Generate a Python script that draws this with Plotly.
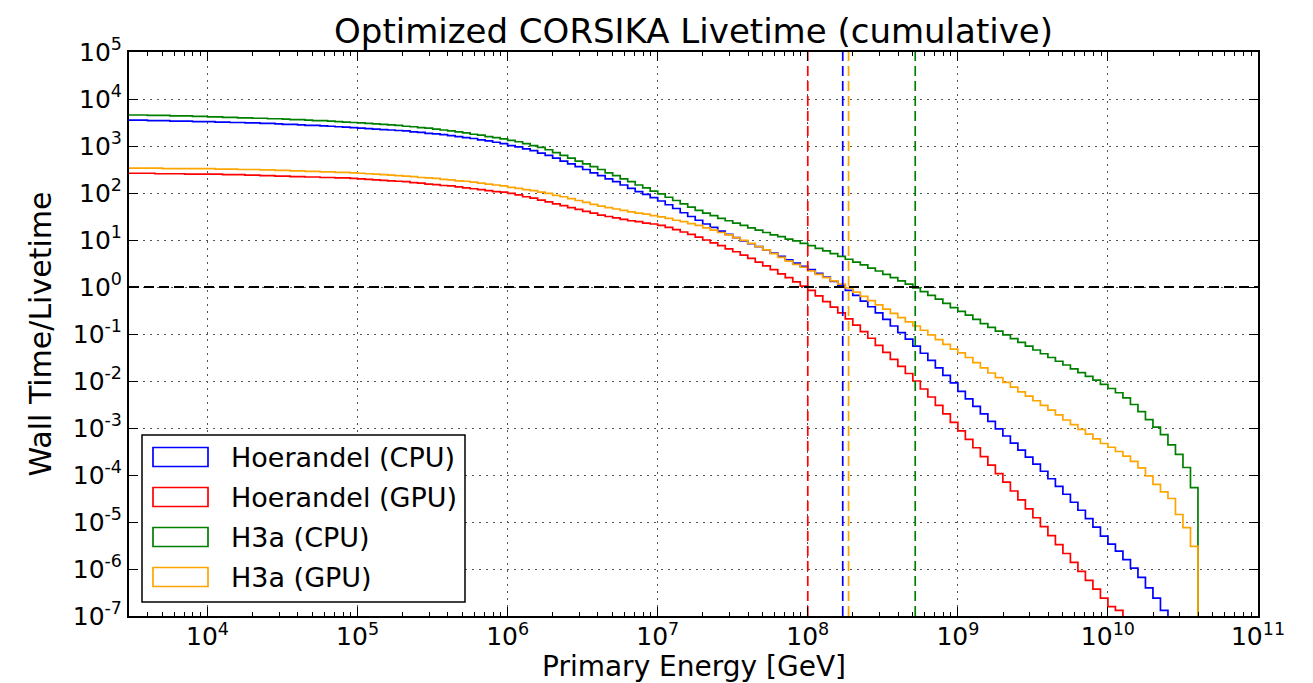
import numpy as np
import plotly.graph_objects as go

title_text = "Optimized CORSIKA Livetime (cumulative)"
x_label = "Primary Energy [GeV]"
y_label = "Wall Time/Livetime"

series_names = ["Hoerandel (CPU)", "Hoerandel (GPU)", "H3a (CPU)", "H3a (GPU)"]
series_colors = ["#0000ff", "#ff0000", "#008000", "#ffa500"]

# histogram binning (log10 GeV): 20 bins per decade
bin_edge_start_log = 3.45
bin_width_log = 0.05

# cumulative wall time / livetime per bin, stored as log10 values
hoerandel_cpu_log10 = [
    3.55, 3.55, 3.55, 3.54, 3.54, 3.54, 3.53, 3.53, 3.53, 3.52, 3.52,
    3.52, 3.51, 3.51, 3.50, 3.50, 3.49, 3.49, 3.48, 3.48, 3.47, 3.46, 3.46, 3.45, 3.44, 3.44, 3.43, 3.42, 3.41, 3.40, 3.39,
    3.38, 3.37, 3.36, 3.35, 3.34, 3.33, 3.32, 3.30, 3.29, 3.27, 3.26, 3.24, 3.22, 3.20, 3.18, 3.16, 3.13, 3.11, 3.08, 3.05,
    3.01, 2.98, 2.94, 2.90, 2.85, 2.80, 2.74, 2.68, 2.62, 2.56, 2.50, 2.43, 2.37, 2.30, 2.24, 2.17, 2.10, 2.03, 1.97, 1.90,
    1.83, 1.75, 1.67, 1.58, 1.50, 1.42, 1.34, 1.27, 1.19, 1.12, 1.05, 0.98, 0.92, 0.86, 0.79, 0.72, 0.65, 0.58, 0.51, 0.44,
    0.37, 0.29, 0.21, 0.12, 0.03, -0.07, -0.18, -0.30, -0.42, -0.55, -0.69, -0.83, -0.97, -1.11, -1.26, -1.41, -1.56, -1.72, -1.88, -2.04,
    -2.22, -2.38, -2.54, -2.70, -2.86, -3.02, -3.17, -3.32, -3.47, -3.62, -3.77, -3.92, -4.08, -4.24, -4.41, -4.58, -4.75, -4.93, -5.11, -5.30,
    -5.47, -5.62, -5.80, -5.98, -6.18, -6.40, -6.62, -6.88, -7.15,
]
hoerandel_gpu_log10 = [
    2.42, 2.42, 2.42, 2.42, 2.41, 2.41, 2.41, 2.41, 2.40, 2.40, 2.40,
    2.40, 2.40, 2.39, 2.39, 2.39, 2.38, 2.38, 2.37, 2.37, 2.36, 2.36, 2.35, 2.35, 2.34, 2.34, 2.33, 2.33, 2.32, 2.32, 2.31,
    2.30, 2.29, 2.28, 2.27, 2.26, 2.25, 2.24, 2.22, 2.21, 2.19, 2.18, 2.16, 2.15, 2.13, 2.11, 2.09, 2.07, 2.05, 2.03, 2.02,
    1.99, 1.96, 1.92, 1.89, 1.85, 1.81, 1.77, 1.73, 1.69, 1.65, 1.61, 1.57, 1.53, 1.50, 1.47, 1.44, 1.41, 1.39, 1.36, 1.34,
    1.31, 1.27, 1.22, 1.17, 1.12, 1.06, 1.00, 0.94, 0.88, 0.81, 0.75, 0.68, 0.61, 0.53, 0.45, 0.37, 0.28, 0.20, 0.11, 0.02,
    -0.07, -0.19, -0.31, -0.43, -0.55, -0.68, -0.81, -0.95, -1.09, -1.24, -1.39, -1.54, -1.69, -1.84, -2.00, -2.17, -2.34, -2.52, -2.70, -2.88,
    -3.06, -3.24, -3.42, -3.61, -3.79, -3.97, -4.15, -4.34, -4.53, -4.72, -4.91, -5.10, -5.29, -5.48, -5.67, -5.86, -6.05, -6.24, -6.43, -6.62,
    -6.80, -6.88, -7.20,
]
h3a_cpu_log10 = [
    3.66, 3.66, 3.66, 3.65, 3.65, 3.65, 3.64, 3.64, 3.64, 3.63, 3.63,
    3.62, 3.62, 3.61, 3.61, 3.60, 3.60, 3.59, 3.59, 3.58, 3.58, 3.57, 3.56, 3.56, 3.55, 3.54, 3.54, 3.53, 3.52, 3.51, 3.50,
    3.49, 3.48, 3.47, 3.46, 3.45, 3.44, 3.42, 3.41, 3.39, 3.38, 3.36, 3.34, 3.32, 3.30, 3.28, 3.25, 3.23, 3.20, 3.18, 3.15,
    3.12, 3.09, 3.05, 3.01, 2.97, 2.92, 2.86, 2.80, 2.74, 2.68, 2.62, 2.56, 2.50, 2.43, 2.37, 2.30, 2.24, 2.17, 2.11, 2.04,
    1.98, 1.91, 1.84, 1.77, 1.70, 1.63, 1.57, 1.52, 1.46, 1.41, 1.36, 1.31, 1.26, 1.21, 1.16, 1.11, 1.07, 1.02, 0.98, 0.93,
    0.88, 0.82, 0.77, 0.71, 0.65, 0.59, 0.53, 0.47, 0.40, 0.34, 0.27, 0.20, 0.13, 0.06, -0.02, -0.10, -0.18, -0.26, -0.35, -0.44,
    -0.52, -0.60, -0.69, -0.78, -0.86, -0.94, -1.02, -1.10, -1.18, -1.26, -1.34, -1.42, -1.50, -1.58, -1.66, -1.74, -1.82, -1.90, -1.98, -2.07,
    -2.16, -2.25, -2.36, -2.50, -2.65, -2.82, -2.98, -3.14, -3.36, -3.56, -3.84, -4.27,
]
h3a_gpu_log10 = [
    2.53, 2.53, 2.53, 2.53, 2.53, 2.52, 2.52, 2.52, 2.52, 2.52, 2.52,
    2.52, 2.51, 2.51, 2.51, 2.50, 2.50, 2.50, 2.49, 2.49, 2.48, 2.48, 2.47, 2.47, 2.46, 2.46, 2.45, 2.45, 2.44, 2.44, 2.43,
    2.42, 2.41, 2.40, 2.39, 2.38, 2.37, 2.36, 2.35, 2.33, 2.32, 2.31, 2.29, 2.28, 2.26, 2.25, 2.23, 2.21, 2.19, 2.17, 2.15,
    2.12, 2.10, 2.07, 2.05, 2.02, 1.99, 1.95, 1.92, 1.88, 1.84, 1.80, 1.76, 1.72, 1.69, 1.66, 1.63, 1.60, 1.57, 1.55, 1.52,
    1.49, 1.46, 1.42, 1.39, 1.35, 1.31, 1.26, 1.21, 1.16, 1.11, 1.05, 0.99, 0.93, 0.86, 0.79, 0.71, 0.63, 0.55, 0.48, 0.42,
    0.34, 0.27, 0.20, 0.13, 0.06, -0.02, -0.11, -0.20, -0.29, -0.38, -0.47, -0.56, -0.65, -0.74, -0.83, -0.92, -1.02, -1.12, -1.22, -1.32,
    -1.40, -1.50, -1.61, -1.72, -1.83, -1.93, -2.03, -2.13, -2.23, -2.32, -2.42, -2.52, -2.62, -2.72, -2.83, -2.93, -3.03, -3.13, -3.23, -3.33,
    -3.41, -3.50, -3.60, -3.71, -3.85, -4.02, -4.20, -4.36, -4.50, -4.84, -5.12, -5.52,
]
series_log10 = [hoerandel_cpu_log10, hoerandel_gpu_log10, h3a_cpu_log10, h3a_gpu_log10]

# energy at which each curve crosses Wall Time/Livetime = 1 (GeV)
crossing_energy = [1.71e8, 1.0e8, 5.2e8, 1.87e8]
reference_level = 1.0

x_min, x_max = 3.0e3, 1.0e11
y_min, y_max = 1.0e-7, 1.0e5
x_tick_exp = list(range(4, 12))
y_tick_exp = list(range(-7, 6))

FONT = "DejaVu Sans"
fig = go.Figure()

for name, color, vals in zip(series_names, series_colors, series_log10):
    n = len(vals)
    edges = 10 ** (bin_edge_start_log + bin_width_log * np.arange(n + 1))
    yv = 10 ** np.array(vals, dtype=float)
    xs = np.concatenate([edges, [edges[-1]]])
    ys = np.concatenate([yv, [yv[-1]], [1e-12]])
    fig.add_trace(go.Scatter(x=xs, y=ys, mode="lines", line=dict(color=color, width=1.7, shape="hv"),
                             name=name, showlegend=False))

for color, e in zip(series_colors, crossing_energy):
    fig.add_trace(go.Scatter(x=[e, e], y=[y_min, y_max], mode="lines",
                             line=dict(color=color, width=1.7, dash="10px,5px"), showlegend=False))

fig.add_trace(go.Scatter(x=[x_min, x_max], y=[reference_level, reference_level], mode="lines",
                         line=dict(color="black", width=2, dash="10px,5px"), showlegend=False))

# minor ticks on x
minor_x = [m * 10 ** k for k in range(3, 11) for m in range(2, 10) if x_min <= m * 10 ** k <= x_max]

axis_common = dict(
    type="log", showline=True, linecolor="black", linewidth=2, mirror="ticks",
    ticks="inside", ticklen=9, tickwidth=1.3, tickcolor="black",
    showgrid=True, gridcolor="#555555", gridwidth=1, griddash="2px,5px",
    zeroline=False, tickfont=dict(family=FONT, size=25, color="black"),
)
fig.update_xaxes(
    **axis_common,
    range=[np.log10(x_min), np.log10(x_max)],
    tickvals=[10 ** k for k in x_tick_exp],
    ticktext=[f"10<sup>{k}</sup>" for k in x_tick_exp],
    ticklabelstandoff=-3,
    minor=dict(tickvals=minor_x, ticks="inside", ticklen=4, tickcolor="black", tickwidth=1, showgrid=False),
)
fig.update_yaxes(
    **axis_common,
    range=[np.log10(y_min), np.log10(y_max)],
    tickvals=[10.0 ** k for k in y_tick_exp],
    ticktext=[f"10<sup>{k}</sup>" for k in y_tick_exp],
    title=dict(text=y_label, font=dict(family=FONT, size=30, color="black"), standoff=12),
)

# page offset (browser body margin) and target plot-area pixel box
OFF_X, OFF_Y = 8, 4
W, H = 1313 - OFF_X, 683 - OFF_Y
L, R, T, B = 129, 1258, 48, 612


def px(xp):
    return (xp - L) / (R - L)


def py(yp):
    return (B - yp) / (B - T)


shapes = [dict(type="rect", xref="paper", yref="paper", x0=px(142), x1=px(465), y0=py(598), y1=py(431),
               line=dict(color="black", width=1.5), fillcolor="white", layer="above")]
annotations = [dict(xref="paper", yref="paper", x=0.5, y=0, yanchor="top", xanchor="center", yshift=-33,
                    borderpad=0, text=x_label, showarrow=False,
                    font=dict(family=FONT, size=28, color="black"))]
row_y = [453, 493, 533, 573]
for name, color, ry in zip(series_names, series_colors, row_y):
    shapes.append(dict(type="rect", xref="paper", yref="paper", x0=px(153), x1=px(208),
                       y0=py(ry + 9.5), y1=py(ry - 9.5), line=dict(color=color, width=1.7),
                       fillcolor="rgba(0,0,0,0)", layer="above"))
    annotations.append(dict(xref="paper", yref="paper", x=px(229), y=py(ry), text=name, showarrow=False,
                            xanchor="left", yanchor="middle", font=dict(family=FONT, size=27, color="black")))

fig.update_layout(
    width=W, height=H,
    margin=dict(l=L - OFF_X, r=(W + OFF_X) - R, t=T - OFF_Y, b=(H + OFF_Y) - B),
    paper_bgcolor="white", plot_bgcolor="white",
    font=dict(family=FONT, color="black"),
    title=dict(text=title_text, x=0.5, xref="paper", y=1 - (27 - OFF_Y) / H, yanchor="middle",
               font=dict(family=FONT, size=34, color="black")),
    shapes=shapes, annotations=annotations, showlegend=False,
)

fig.write_html("out.html")
